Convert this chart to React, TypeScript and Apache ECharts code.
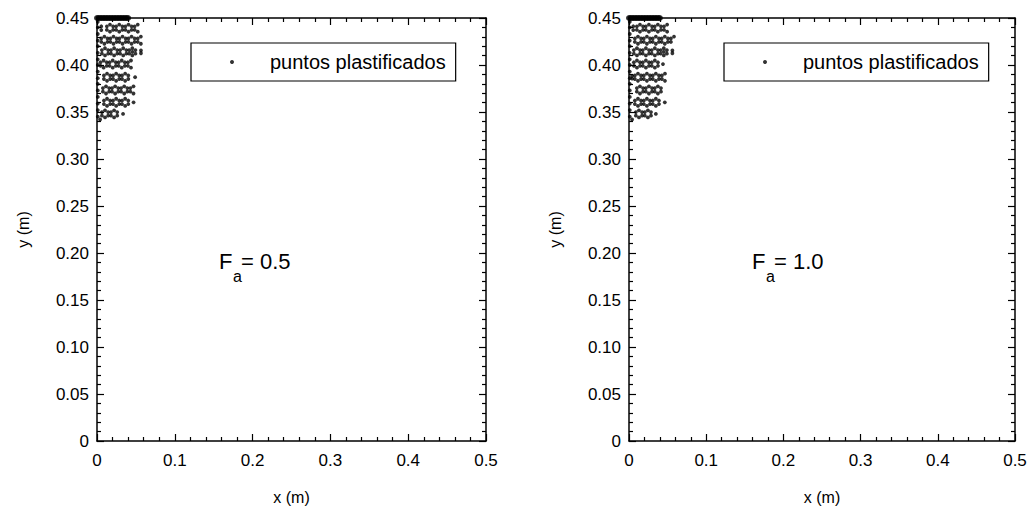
import React, { useEffect, useRef } from "react";
import * as echarts from "echarts";

// ---- axes ----
const X_MIN = 0;
const X_MAX = 0.5;
const X_STEP = 0.1;
const Y_MIN = 0;
const Y_MAX = 0.45;
const Y_STEP = 0.05;

const SERIES_NAME = "puntos plastificados";
const PANEL_LABELS = ["0.5", "1.0"];

// ---- plastified points: top surface row (y = 0.45) ----
const SURFACE_Y = 0.45;
const SURFACE_X = [0, 0.002, 0.004, 0.006, 0.008, 0.01, 0.012, 0.014, 0.016, 0.018, 0.02, 0.022, 0.024, 0.026, 0.028, 0.03, 0.032, 0.034, 0.036, 0.038, 0.04];

// ---- points along the symmetry edge (x ≈ 0) ----
const EDGE_X = 0.001;
const EDGE_Y = [0.345, 0.352, 0.359, 0.366, 0.373, 0.38, 0.386, 0.393, 0.4, 0.406, 0.413, 0.42, 0.426, 0.433, 0.44, 0.446];

// ---- Gauss-point clusters (6 points around each element centre) ----
const GAUSS_OFFSETS = [
  [0, 0.0038], [0, -0.0038],
  [-0.0040, 0.0019], [0.0040, 0.0019],
  [-0.0040, -0.0019], [0.0040, -0.0019],
];

// Fa = 0.5
const LEFT_CENTERS = [
  [0.0167, 0.4392], [0.0286, 0.4392], [0.0405, 0.4392],
  [0.0095, 0.4264], [0.0212, 0.4264], [0.0328, 0.4264], [0.0444, 0.4264],
  [0.0103, 0.4140], [0.0220, 0.4140], [0.0337, 0.4140], [0.0454, 0.4140],
  [0.0085, 0.4010], [0.0202, 0.4010], [0.0318, 0.4010],
  [0.0129, 0.3870], [0.0246, 0.3870], [0.0362, 0.3870],
  [0.0116, 0.3735], [0.0233, 0.3735], [0.0350, 0.3735],
  [0.0129, 0.3603], [0.0246, 0.3603], [0.0362, 0.3603],
  [0.0103, 0.3480], [0.0220, 0.3480],
];
const LEFT_EXTRA = [
  [0.0055, 0.4412], [0.0055, 0.4372],
  [0.0484, 0.4411], [0.0484, 0.4373], [0.0524, 0.4430], [0.0524, 0.4354],
  [0.0524, 0.4283], [0.0524, 0.4245], [0.0564, 0.4302], [0.0564, 0.4226],
  [0.0454, 0.4140], [0.0565, 0.4155], [0.0565, 0.4125],
  [0.0397, 0.4029], [0.0397, 0.3991], [0.0437, 0.4048], [0.0437, 0.3972],
  [0.0490, 0.3870],
  [0.0429, 0.3754], [0.0429, 0.3716], [0.0469, 0.3773], [0.0469, 0.3697],
  [0.0470, 0.3603],
  [0.0335, 0.3480],
  [0.004, 0.342],
];

// Fa = 1.0
const RIGHT_CENTERS = [
  [0.0142, 0.4392], [0.0258, 0.4392], [0.0374, 0.4392],
  [0.0116, 0.4264], [0.0232, 0.4264], [0.0348, 0.4264], [0.0464, 0.4264],
  [0.0103, 0.4140], [0.0219, 0.4140], [0.0335, 0.4140], [0.0451, 0.4140],
  [0.0103, 0.4010], [0.0219, 0.4010], [0.0335, 0.4010],
  [0.0116, 0.3870], [0.0232, 0.3870], [0.0348, 0.3870],
  [0.0142, 0.3735], [0.0258, 0.3735], [0.0374, 0.3735],
  [0.0116, 0.3603], [0.0232, 0.3603], [0.0348, 0.3603],
  [0.0129, 0.3480], [0.0245, 0.3480],
];
const RIGHT_EXTRA = [
  [0.0055, 0.4412], [0.0055, 0.4372],
  [0.0454, 0.4411], [0.0454, 0.4373], [0.0494, 0.4430], [0.0494, 0.4354],
  [0.0543, 0.4283], [0.0543, 0.4245], [0.0583, 0.4302],
  [0.0451, 0.4140], [0.0562, 0.4155], [0.0562, 0.4125],
  [0.0440, 0.4010],
  [0.0426, 0.3889], [0.0426, 0.3851], [0.0466, 0.3908], [0.0466, 0.3832],
  [0.0040, 0.3885], [0.0040, 0.3855],
  [0.0464, 0.3603],
  [0.0348, 0.3480],
  [0.004, 0.342],
];

function buildPoints(centers: number[][], extra: number[][]) {
  const pts: number[][] = [];
  SURFACE_X.forEach((x) => pts.push([x, SURFACE_Y]));
  EDGE_Y.forEach((y) => pts.push([EDGE_X, y]));
  centers.forEach(([cx, cy]) =>
    GAUSS_OFFSETS.forEach(([dx, dy]) => pts.push([cx + dx, cy + dy]))
  );
  extra.forEach((p) => pts.push(p));
  return pts;
}

const FONT = "'Liberation Sans', Arial, sans-serif";

export default function App() {
  const ref = useRef<HTMLDivElement>(null);

  useEffect(() => {
    if (!ref.current) return;
    const chart = echarts.init(ref.current, null, { renderer: "svg" });

    const grids = [
      { left: 97, top: 18, width: 389, height: 423, outerBoundsMode: "none", containLabel: false },
      { left: 629, top: 18, width: 386, height: 423, outerBoundsMode: "none", containLabel: false },
    ];

    const lineStyle = { color: "#000", width: 1.5 };
    const tickStyle = { color: "#000", width: 1.2 };

    const xAxisBase = (gridIndex: number, position: string, show: boolean) => ({
      type: "value",
      gridIndex,
      position,
      min: X_MIN,
      max: X_MAX,
      interval: X_STEP,
      axisLine: { show: true, onZero: false, lineStyle },
      axisTick: { show: true, inside: true, length: 7, lineStyle: tickStyle },
      minorTick: { show: true, splitNumber: 5, length: 4, lineStyle: tickStyle },
      splitLine: { show: false },
      axisLabel: {
        show,
        color: "#000",
        fontFamily: FONT,
        fontSize: 17,
        margin: 11,
        formatter: (v: number) => (v === 0 ? "0" : v.toFixed(1)),
      },
      name: show ? "x (m)" : "",
      nameLocation: "middle",
      nameGap: 48,
      nameTextStyle: { color: "#000", fontFamily: FONT, fontSize: 16 },
    });

    const yAxisBase = (gridIndex: number, position: string, show: boolean) => ({
      type: "value",
      gridIndex,
      position,
      min: Y_MIN,
      max: Y_MAX,
      interval: Y_STEP,
      axisLine: { show: true, onZero: false, lineStyle },
      axisTick: { show: true, inside: true, length: 7, lineStyle: tickStyle },
      minorTick: { show: true, splitNumber: 5, length: 4, lineStyle: tickStyle },
      splitLine: { show: false },
      axisLabel: {
        show,
        color: "#000",
        fontFamily: FONT,
        fontSize: 17,
        margin: 8,
        formatter: (v: number) => (v === 0 ? "0" : v.toFixed(2)),
      },
      name: show ? "y (m)" : "",
      nameLocation: "middle",
      nameGap: 66,
      nameTextStyle: { color: "#000", fontFamily: FONT, fontSize: 16 },
    });

    const panels = [
      buildPoints(LEFT_CENTERS, LEFT_EXTRA),
      buildPoints(RIGHT_CENTERS, RIGHT_EXTRA),
    ];

    const series = panels.map((data, i) => ({
      type: "scatter",
      name: SERIES_NAME,
      xAxisIndex: i,
      yAxisIndex: i,
      data,
      clip: false,
      symbol: "circle",
      symbolSize: (v: number[]) => (v[1] >= SURFACE_Y ? 6 : 3.8),
      itemStyle: { color: "#000" },
      z: 5,
    }));

    const legends = grids.map((g, i) => ({
      show: true,
      data: [{ name: SERIES_NAME, icon: "circle" }],
      left: i === 0 ? 191 : 724,
      top: 43,
      orient: "horizontal",
      padding: [9, 10, 9, 39],
      itemWidth: 4,
      itemHeight: 4,
      borderColor: "#000",
      borderWidth: 1.2,
      borderRadius: 0,
      backgroundColor: "#fff",
      textStyle: { color: "#000", fontFamily: FONT, fontSize: 20, padding: [0, 0, 0, 31] },
      selectedMode: false,
    }));

    const graphic: any[] = [];
    [219, 752].forEach((x0, i) => {
      graphic.push(
        {
          type: "text",
          left: x0,
          top: 250,
          style: { text: "F", fontFamily: FONT, fontSize: 22, fill: "#000" },
        },
        {
          type: "text",
          left: x0 + 14,
          top: 268,
          style: { text: "a", fontFamily: FONT, fontSize: 16, fill: "#000" },
        },
        {
          type: "text",
          left: x0 + 22,
          top: 250,
          style: { text: "= " + PANEL_LABELS[i], fontFamily: FONT, fontSize: 22, fill: "#000" },
        }
      );
    });

    chart.setOption({
      animation: false,
      backgroundColor: "#fff",
      grid: grids,
      xAxis: [
        xAxisBase(0, "bottom", true),
        xAxisBase(1, "bottom", true),
        xAxisBase(0, "top", false),
        xAxisBase(1, "top", false),
      ],
      yAxis: [
        yAxisBase(0, "left", true),
        yAxisBase(1, "left", true),
        yAxisBase(0, "right", false),
        yAxisBase(1, "right", false),
      ],
      legend: legends,
      series,
      graphic,
    } as any);

    return () => chart.dispose();
  }, []);

  return (
    <div
      ref={ref}
      style={{ position: "absolute", left: 0, top: 0, width: 1028, height: 514 }}
    />
  );
}
